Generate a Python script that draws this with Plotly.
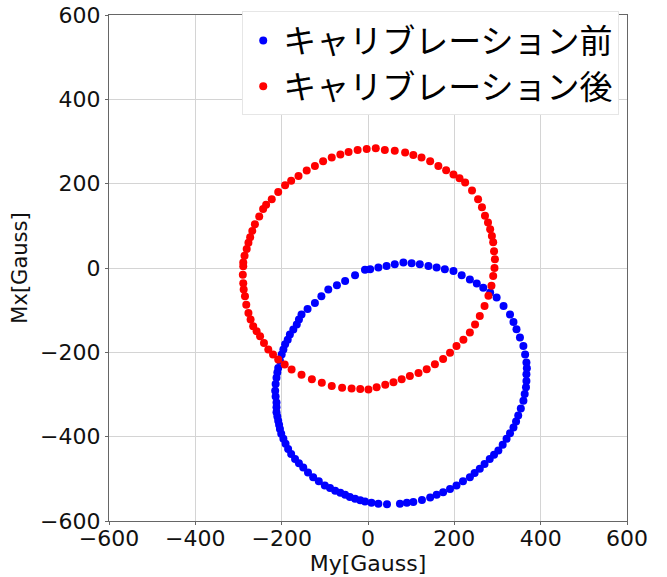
import plotly.graph_objects as go

# Before calibration (blue): My (horizontal), Mx (vertical)
my_before = [-215, -214, -212, -210, -208, -204, -200, -196, -192, -186, -181, -173, -165, -160, -154, -140,
             -123, -108, -92, -72, -53, -30, -7, 5, 24, 43, 62, 82, 101, 120, 140, 159, 178, 198, 217, 236,
             252, 267, 283, 298, 314, 329, 337, 344, 352, 360, 364, 367, 368, 367, 367, 366, 363, 360, 354,
             348, 343, 337, 329, 321, 312, 302, 292, 282, 270, 259, 247, 236, 220, 205, 190, 174, 159, 144,
             125, 105, 90, 74, 44, 24, 8, -7, -18, -30, -42, -53, -64, -76, -88, -100, -114, -127, -139, -150,
             -160, -169, -178, -185, -191, -196, -201, -204, -206, -208, -210, -212, -212, -212, -214]
mx_before = [-291, -275, -260, -248, -237, -220, -205, -193, -181, -170, -158, -146, -134, -122, -110, -97,
             -83, -67, -51, -41, -31, -17, -4, -3, 1, 5, 9, 13, 11, 9, 5, 1, -3, -7, -17, -27,
             -37, -47, -58, -70, -90, -110, -128, -145, -165, -185, -205, -224, -238, -252, -268, -283, -299, -315, -333,
             -350, -364, -378, -392, -405, -419, -433, -443, -453, -465, -476, -486, -496, -506, -516, -524, -532, -538, -544,
             -550, -555, -557, -559, -560, -559, -557, -554, -551, -547, -543, -538, -533, -528, -522, -516, -506, -496, -485, -473,
             -463, -453, -441, -429, -417, -405, -393, -382, -372, -362, -352, -342, -330, -319, -305]

# After calibration (red)
my_after = [-289, -286, -281, -277, -273, -268, -262, -252, -243, -236, -223, -208, -192, -178, -161, -142,
            -123, -104, -84, -64, -45, -24, -3, 18, 39, 62, 86, 105, 124, 144, 163, 181, 198, 212, 225, 241,
            255, 264, 271, 278, 283, 287, 290, 292, 294, 293, 290, 286, 279, 270, 259, 248, 236, 221, 205,
            190, 174, 155, 136, 117, 97, 78, 59, 40, 20, 1, -18, -38, -60, -84, -107, -130, -154, -177, -193,
            -208, -220, -231, -241, -250, -258, -266, -272, -277, -282, -285, -288, -289, -290, -289]
mx_after = [13, 29, 45, 60, 73, 88, 104, 122, 140, 150, 163, 180, 196, 207, 218, 231,
            242, 253, 262, 269, 275, 280, 282, 284, 280, 278, 274, 268, 262, 253, 242, 232, 222, 213, 203, 184,
            163, 144, 124, 108, 92, 76, 61, 40, 21, 0, -19, -42, -66, -90, -114, -134, -153, -170, -185,
            -201, -216, -228, -240, -249, -256, -264, -271, -277, -283, -288, -287, -286, -284, -280, -272, -264, -253, -241, -229,
            -217, -205, -193, -178, -162, -150, -138, -122, -107, -87, -67, -51, -36, -16, 4]

series_names = ["キャリブレーション前", "キャリブレーション後"]
tick_vals = [-600, -400, -200, 0, 200, 400, 600]

fig = go.Figure()
fig.add_trace(go.Scatter(x=my_before, y=mx_before, mode="markers", name=series_names[0],
                         marker=dict(color="#0000ff", size=8)))
fig.add_trace(go.Scatter(x=my_after, y=mx_after, mode="markers", name=series_names[1],
                         marker=dict(color="#ff0000", size=8)))

axis_common = dict(
    range=[-600, 600], tickvals=tick_vals, showgrid=True, gridcolor="#d4d4d4", gridwidth=1,
    zeroline=False, showline=True, linecolor="#666666", linewidth=1.3, mirror=True,
    ticks="outside", ticklen=3, tickcolor="#666666", automargin=False,
    tickfont=dict(family="DejaVu Sans", size=22, color="#111111"),
)
fig.update_xaxes(**axis_common, ticklabelstandoff=-6,
                 title=dict(text="My[Gauss]", font=dict(family="DejaVu Sans", size=22, color="#111111"), standoff=0))
fig.update_yaxes(**axis_common, title=dict(text="Mx[Gauss]", font=dict(family="DejaVu Sans", size=21, color="#111111"), standoff=6))

fig.update_layout(
    width=667, height=577,
    margin=dict(l=109, r=40, t=14, b=56),
    plot_bgcolor="white", paper_bgcolor="white",
    showlegend=True,
    legend=dict(x=0.985, y=1.005, xanchor="right", yanchor="top",
                bgcolor="white", bordercolor="#e6e6e6", borderwidth=1,
                font=dict(family="Noto Sans CJK JP", size=33, color="#000000"),
                tracegroupgap=0, itemwidth=30),
)

# remove the page's default body margin so the figure sits at the window's corner
fig.write_html("out.html", config={"displayModeBar": False},
               post_script="document.body.style.margin='0';document.body.style.overflow='hidden';")
